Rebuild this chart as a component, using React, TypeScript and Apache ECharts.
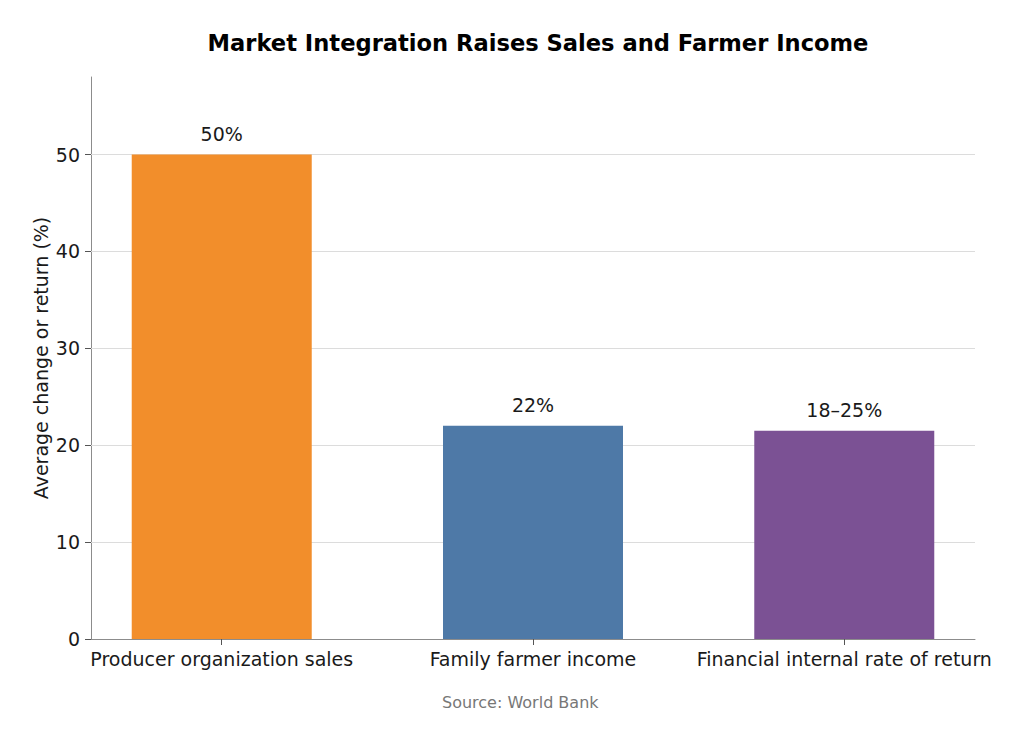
import React, { useEffect, useRef } from "react";
import * as echarts from "echarts";

const categories = ["Producer organization sales", "Family farmer income", "Financial internal rate of return"];
const values = [50, 22, 21.5];
const valueLabels = ["50%", "22%", "18–25%"];
const colors = ["#f28e2b", "#4e79a7", "#7b5194"];
const yTicks = [0, 10, 20, 30, 40, 50];
const gridTicks = [10, 20, 30, 40, 50];

const FONT = "DejaVu Sans";

export default function App() {
  const ref = useRef<HTMLDivElement>(null);
  useEffect(() => {
    document.body.style.margin = "0";
    const chart = echarts.init(ref.current!, undefined, { renderer: "svg" });
    chart.setOption({
      animation: false,
      backgroundColor: "#ffffff",
      textStyle: { fontFamily: FONT },
      title: {
        text: "Market Integration Raises Sales and Farmer Income",
        left: 533,
        textAlign: "center",
        top: 26,
        textStyle: { fontFamily: FONT, fontSize: 22.6, fontWeight: "bold", color: "#000" },
      },
      grid: { left: 91, right: 49, top: 77, bottom: 105, containLabel: false },
      xAxis: {
        type: "value",
        min: -0.42,
        max: 2.42,
        axisLine: { show: true, onZero: false, lineStyle: { color: "#8c8c8c", width: 1 } },
        axisTick: { show: true, customValues: [0, 1, 2], length: 6, lineStyle: { color: "#555" } },
        axisLabel: {
          customValues: [0, 1, 2],
          formatter: (v: number) => categories[Math.round(v)] ?? "",
          fontSize: 19,
          color: "#1a1a1a",
          fontFamily: FONT,
          margin: 10,
        },
        splitLine: { show: false },
      },
      yAxis: {
        type: "value",
        min: 0,
        max: 58,
        name: "Average change or return (%)",
        nameLocation: "middle",
        nameGap: 41,
        nameMoveOverlap: false,
        nameTextStyle: { fontSize: 19, color: "#1a1a1a", fontFamily: FONT },
        axisLine: { show: true, onZero: false, lineStyle: { color: "#8c8c8c", width: 1 } },
        axisTick: { show: true, customValues: yTicks, length: 6, lineStyle: { color: "#555" } },
        axisLabel: {
          customValues: yTicks,
          fontSize: 19,
          color: "#1a1a1a",
          fontFamily: FONT,
          margin: 11,
        },
        splitLine: { show: false },
      },
      series: [
        {
          type: "line",
          data: [],
          silent: true,
          z: 1,
          markLine: {
            silent: true,
            z: 1,
            symbol: "none",
            label: { show: false },
            lineStyle: { color: "#dcdcdc", type: "solid", width: 1 },
            data: gridTicks.map((t) => ({ yAxis: t })),
          },
        },
        {
          type: "bar",
          barWidth: 180,
          z: 3,
          data: values.map((v, i) => ({
            value: [i, v],
            itemStyle: { color: colors[i] },
            label: {
              show: true,
              position: "top",
              distance: 11,
              formatter: valueLabels[i],
              fontSize: 19,
              color: "#1a1a1a",
              fontFamily: FONT,
            },
          })),
        },
      ],
      graphic: [
        {
          type: "text",
          left: 442,
          top: 694,
          style: { text: "Source: World Bank", fontSize: 16, fill: "#777777", fontFamily: FONT },
        },
      ],
    });
    return () => chart.dispose();
  }, []);
  return <div ref={ref} style={{ width: 1024, height: 744 }} />;
}
